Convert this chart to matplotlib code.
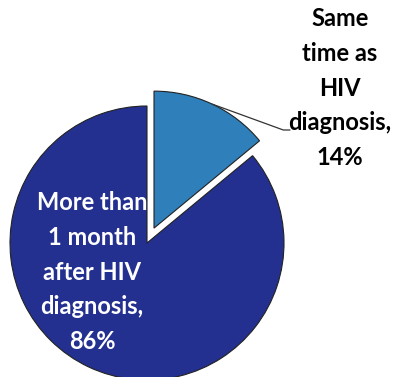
import numpy as np
import matplotlib.pyplot as plt

labels = ['Same time as\nHIV diagnosis', 'More than 1 month\nafter HIV diagnosis']
shares = [14, 86]
colors = ['#2e7fba', '#23308f']
explode = [0.12, 0]

# pixel layout of the reference: pie centre and radius
cx, cy, r = 147, 243, 137
W, H = 399, 377

fig = plt.figure(figsize=(W / 100, H / 100), dpi=100)
ax = fig.add_axes([0, 0, 1, 1])

wedges, _ = ax.pie(shares, colors=colors, explode=explode, startangle=90,
                   counterclock=False, radius=1,
                   wedgeprops=dict(edgecolor='#222222', linewidth=0.8))
wedges[0].set_zorder(3)
wedges[1].set_zorder(1)

ax.set_xlim(-cx / r, (W - cx) / r)
ax.set_ylim(-(H - cy) / r, cy / r)
ax.set_aspect('auto')
ax.axis('off')

font = ['Lato', 'DejaVu Sans']

# label for the small slice, outside, with leader line
w = wedges[0]
mid = np.deg2rad((w.theta1 + w.theta2) / 2)
ox, oy = w.center
tip = (ox + np.cos(mid), oy + np.sin(mid))
ax.annotate('', xy=tip, xytext=((290 - cx) / r, (cy - 130) / r),
            arrowprops=dict(arrowstyle='-', color='#333333', lw=0.9,
                            shrinkA=0, shrinkB=0,
                            connectionstyle='angle,angleA=180,angleB=-20,rad=0'))
ax.text((340 - cx) / r, (cy - 88) / r,
        'Same\ntime as\nHIV\ndiagnosis,\n%d%%' % shares[0],
        ha='center', va='center', fontsize=17, fontweight='bold',
        family=font, color='black', linespacing=1.62, zorder=4)

# label for the big slice, inside, partly hidden by the small slice
ax.text((92 - cx) / r, (cy - 272) / r,
        'More than\n1 month\nafter HIV\ndiagnosis,\n%d%%' % shares[1],
        ha='center', va='center', fontsize=17, fontweight='bold',
        family=font, color='white', linespacing=1.62, zorder=2)

fig.savefig('out.png', dpi=100)
